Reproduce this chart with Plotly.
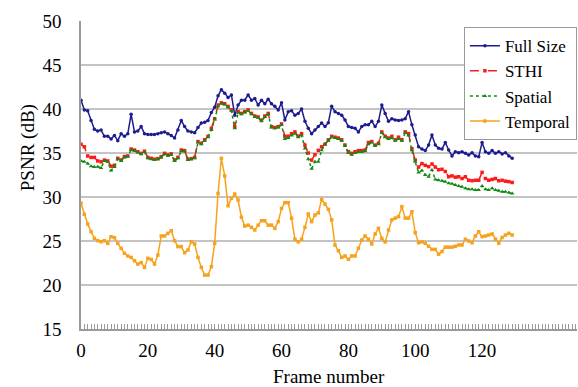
import plotly.graph_objects as go

frames = list(range(130))

full_size = [
    41.0, 39.9, 39.8, 38.7, 37.7, 37.5, 37.6, 36.9, 36.9, 36.6,
    37.0, 36.4, 37.2, 36.9, 37.2, 39.4, 37.4, 37.5, 38.0, 37.2,
    37.1, 37.1, 37.1, 37.2, 37.3, 37.4, 37.2, 37.0, 36.7, 37.6,
    38.7, 38.0, 37.5, 37.4, 37.3, 37.9, 38.4, 38.5, 38.7, 39.6,
    40.2, 41.5, 42.2, 41.8, 41.3, 41.6, 39.3, 40.45, 41.0, 41.0,
    41.6, 41.0, 41.2, 40.45, 41.0, 40.6, 41.1, 40.6, 40.3, 39.9,
    40.7, 38.75, 39.7, 39.8, 39.3, 39.5, 40.0, 38.6, 37.8, 37.2,
    37.6, 38.0, 38.4, 38.0, 38.45, 40.3, 39.7, 39.5, 39.3, 38.75,
    38.0, 37.9, 37.8, 37.4, 38.0, 38.2, 38.2, 38.6, 38.0, 38.6,
    40.45, 39.5, 38.6, 38.9, 38.75, 38.7, 38.75, 38.9, 39.7, 38.2,
    37.05, 35.7, 35.45, 35.27, 35.9, 37.05, 35.9, 35.53, 35.45, 36.2,
    35.34, 34.66, 35.15, 35.04, 35.15, 34.96, 34.77, 35.04, 34.66, 34.58,
    36.2, 35.15, 34.96, 35.27, 34.96, 35.15, 34.89, 35.04, 34.66, 34.4,
]

sthi = [
    36.0, 35.7, 34.66, 34.5, 34.5, 34.1, 34.0, 34.2, 34.1, 33.5,
    33.6, 34.4, 34.2, 34.6, 34.66, 35.45, 35.34, 35.15, 34.96, 35.2,
    34.5, 34.4, 34.3, 34.36, 34.58, 34.96, 34.77, 34.9, 34.2, 34.5,
    35.34, 35.27, 34.3, 34.36, 34.5, 36.3, 36.1, 36.5, 36.9, 37.8,
    38.9, 40.45, 40.7, 40.6, 40.3, 39.9, 38.0, 39.7, 39.5, 39.7,
    39.9, 39.5, 39.2, 39.1, 38.75, 39.2, 39.5, 38.0, 37.9, 38.0,
    38.3, 36.9, 36.9, 37.2, 37.4, 36.9, 37.2, 35.9, 35.0, 34.2,
    34.8, 35.3, 35.7, 36.0, 36.5, 36.9, 36.8, 36.7, 36.5, 35.9,
    35.15, 34.96, 35.15, 35.27, 35.27, 35.34, 36.2, 36.3, 35.9, 36.1,
    37.4, 36.9, 36.7, 36.9, 36.5, 36.8, 36.5, 37.4, 37.2, 35.5,
    34.2, 33.4, 33.8, 33.6, 33.45, 33.75, 33.4, 33.1, 33.15, 32.9,
    32.3, 32.4, 32.25, 32.3, 32.1, 32.3, 31.9, 31.85, 31.9, 31.9,
    32.8, 32.1, 31.9, 32.0, 32.1, 31.85, 31.9, 31.8, 31.75, 31.65,
]

spatial = [
    34.1, 34.0, 33.8, 33.5, 33.4, 33.45, 33.3, 34.1, 34.0, 33.0,
    33.4, 34.3, 34.1, 34.5, 34.6, 35.35, 35.25, 35.05, 34.85, 35.1,
    34.4, 34.3, 34.2, 34.3, 34.5, 34.85, 34.7, 34.8, 34.1, 34.4,
    35.2, 35.2, 34.2, 34.3, 34.4, 36.2, 36.0, 36.4, 36.8, 37.6,
    38.8, 40.3, 40.6, 40.5, 40.2, 39.8, 37.8, 39.6, 39.4, 39.6,
    39.8, 39.4, 39.1, 39.0, 38.6, 39.1, 39.4, 37.9, 37.8, 37.9,
    38.2, 36.6, 36.7, 37.0, 37.2, 36.8, 37.0, 35.5, 34.3, 33.2,
    34.0, 34.0, 35.3, 36.0, 36.4, 36.8, 36.7, 36.6, 36.4, 35.8,
    35.0, 34.8, 35.0, 35.1, 35.1, 35.2, 36.0, 36.2, 35.8, 36.0,
    37.3, 36.8, 36.6, 36.7, 36.4, 36.6, 36.4, 37.3, 37.0, 35.3,
    34.0, 32.77, 33.0, 32.5, 32.3, 33.07, 32.0, 31.9, 31.85, 31.74,
    31.55, 31.5, 31.36, 31.25, 31.17, 31.0, 30.87, 30.87, 30.8, 30.8,
    31.25, 30.87, 30.8, 30.99, 30.8, 30.72, 30.6, 30.6, 30.5, 30.4,
]

temporal = [
    29.28, 28.03, 26.93, 26.06, 25.3, 25.04, 24.92, 25.04, 24.73, 25.49,
    25.38, 24.73, 24.17, 23.6, 23.3, 23.14, 22.76, 22.38, 22.54, 22.0,
    23.03, 22.9, 22.38, 23.4, 25.57, 25.57, 25.87, 26.17, 25.04, 24.36,
    24.36, 23.67, 23.98, 24.92, 24.66, 23.14, 22.0, 21.13, 21.13, 22.08,
    24.73, 30.4, 34.4, 32.4, 29.0, 29.85, 30.34, 29.66, 27.7, 26.7,
    26.8, 26.55, 26.25, 26.8, 27.3, 27.3, 26.8, 26.8, 26.44, 27.2,
    28.7, 29.36, 29.36, 27.6, 25.2, 24.9, 25.2, 26.55, 28.07, 27.2,
    27.95, 28.2, 29.73, 29.2, 28.6, 27.4, 24.54, 23.9, 23.14, 23.3,
    22.92, 23.3, 23.3, 24.17, 25.1, 25.57, 25.2, 24.66, 25.8, 26.44,
    25.3, 24.9, 26.25, 27.4, 27.6, 27.76, 28.9, 27.6, 27.6, 28.33,
    25.95, 24.8, 24.9, 24.74, 24.4, 24.05, 24.05, 23.5, 23.8, 24.3,
    24.3, 24.3, 24.4, 24.55, 24.55, 25.2, 25.0, 24.8, 25.57, 26.06,
    25.5, 25.57, 25.68, 25.8, 25.2, 24.74, 25.4, 25.68, 25.87, 25.68,
]

x_ticks = [0, 20, 40, 60, 80, 100, 120]
y_ticks = [15, 20, 25, 30, 35, 40, 45, 50]

SERIF = "Liberation Serif"

series = [
    ("Full Size", full_size, "#1c1c8e", "solid", "circle", 3.5),
    ("STHI", sthi, "#ff1a1a", "dash", "square", 3.5),
    ("Spatial", spatial, "#128a12", "dot", "triangle-up", 4),
    ("Temporal", temporal, "#f7a21c", "solid", "square", 3.5),
]

fig = go.Figure()
for name, vals, color, dash, symbol, msize in series:
    fig.add_trace(go.Scatter(
        x=frames, y=vals, name=name, mode="lines+markers",
        line=dict(color=color, width=1.5, dash=dash),
        marker=dict(color=color, symbol=symbol, size=msize, line=dict(width=0)),
    ))

fig.update_layout(
    width=578, height=387,
    margin=dict(l=81, r=1, t=21, b=58),
    paper_bgcolor="white", plot_bgcolor="white",
    font=dict(family=SERIF, size=19, color="black"),
    showlegend=True,
    legend=dict(
        x=0.772, y=0.98, xanchor="left", yanchor="top",
        bordercolor="#9a9a9a", borderwidth=1, bgcolor="white",
        font=dict(family=SERIF, size=17, color="black"),
        tracegroupgap=0, itemwidth=30,
    ),
    xaxis=dict(
        range=[0, 148.4], tickvals=x_ticks, ticktext=[str(v) for v in x_ticks],
        showgrid=False, zeroline=False,
        showline=True, linecolor="#9a9a9a", linewidth=1.5,
        ticks="inside", ticklen=5, tickcolor="#9a9a9a", tickwidth=1,
        minor=dict(dtick=1, ticks="inside", ticklen=5, tickcolor="#9a9a9a", tickwidth=1),
        ticklabelstandoff=3,
        tickfont=dict(family=SERIF, size=19, color="black"),
    ),
    yaxis=dict(
        range=[15, 50], tickvals=y_ticks, ticktext=[str(v) for v in y_ticks],
        showgrid=True, gridcolor="#c4c4c4", gridwidth=1.5,
        zeroline=False, showline=True, linecolor="#9a9a9a", linewidth=1.5,
        ticks="", ticklabelstandoff=14,
        tickfont=dict(family=SERIF, size=19, color="black"),
    ),
    annotations=[
        dict(text="PSNR (dB)", xref="paper", yref="paper", x=-0.107, y=0.59,
             xanchor="center", yanchor="middle", textangle=-90, showarrow=False,
             font=dict(family=SERIF, size=19, color="black")),
        dict(text="Frame number", xref="paper", yref="paper", x=0.5, y=-0.153,
             xanchor="center", yanchor="middle", showarrow=False,
             font=dict(family=SERIF, size=19, color="black")),
    ],
)

# redraw once the serif face is ready so every label picks it up
redraw_js = """
var gd = document.getElementById('{plot_id}');
if (document.fonts && document.fonts.load) {
  Promise.all([
    document.fonts.load('19px "Liberation Serif"'),
    document.fonts.load('17px "Liberation Serif"')
  ]).then(function () { Plotly.newPlot(gd, gd.data, gd.layout); });
}
"""

fig.write_html("out.html", post_script=redraw_js)
